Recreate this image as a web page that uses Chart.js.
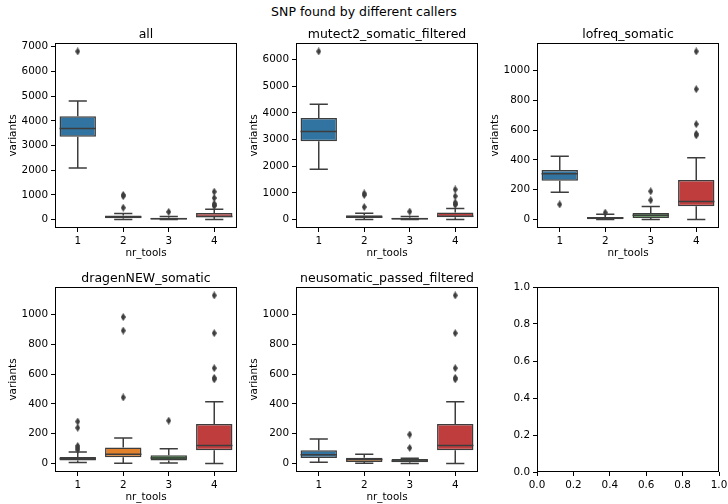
<!DOCTYPE html>
<html>
<head>
<meta charset="utf-8">
<script src="https://cdn.jsdelivr.net/npm/chart.js@4/dist/chart.umd.min.js"></script>
<style>
  body { margin: 0; background: #fff; width: 728px; height: 504px; position: relative; overflow: hidden; font-family: 'DejaVu Sans', sans-serif; }
  canvas { position: absolute; }
  #sup { position: absolute; left: 0; top: 5px; width: 728px; text-align: center; font-size: 12.5px; line-height: 14px; color: #000; }
</style>
</head>
<body>
<div id="sup">SNP found by different callers</div>
<canvas id="c1" width="249" height="244" style="left:0;top:17px"></canvas>
<canvas id="c2" width="249" height="244" style="left:241px;top:17px"></canvas>
<canvas id="c3" width="249" height="244" style="left:482px;top:17px"></canvas>
<canvas id="c4" width="249" height="244" style="left:0;top:261px"></canvas>
<canvas id="c5" width="249" height="244" style="left:241px;top:261px"></canvas>
<canvas id="c6" width="249" height="244" style="left:482px;top:261px"></canvas>
<script>
const categories = ['1', '2', '3', '4'];

// all
const allLow  = [2090, 0, 0, 0];
const allQ1   = [3350, 55, 8, 90];
const allMed  = [3690, 100, 30, 122];
const allQ3   = [4180, 165, 70, 265];
const allHigh = [4800, 250, 130, 415];
const allOut  = [[6810], [480, 950, 1000], [310], [565, 575, 640, 875, 1128]];
const allTicks = [0, 1000, 2000, 3000, 4000, 5000, 6000, 7000];

// mutect2_somatic_filtered
const mutLow  = [1890, 0, 0, 0];
const mutQ1   = [2930, 55, 8, 90];
const mutMed  = [3300, 100, 30, 122];
const mutQ3   = [3810, 160, 65, 265];
const mutHigh = [4320, 240, 120, 415];
const mutOut  = [[6300], [470, 920, 980], [300], [565, 575, 640, 875, 1128]];
const mutTicks = [0, 1000, 2000, 3000, 4000, 5000, 6000];

// lofreq_somatic
const lofLow  = [183, 0, 0, 0];
const lofQ1   = [260, 3, 11, 90];
const lofMed  = [308, 10, 29, 122];
const lofQ3   = [332, 18, 44, 265];
const lofHigh = [425, 35, 88, 415];
const lofOut  = [[102], [47], [130, 190], [565, 575, 640, 875, 1128]];

// dragenNEW_somatic
const drgLow  = [8, 3, 4, 0];
const drgQ1   = [20, 42, 20, 90];
const drgMed  = [33, 62, 38, 122];
const drgQ3   = [45, 108, 56, 265];
const drgHigh = [78, 172, 100, 415];
const drgOut  = [[92, 105, 118, 240, 282], [444, 892, 983], [288], [565, 575, 640, 875, 1128]];

// neusomatic_passed_filtered
const neuLow  = [9, 2, 0, 0];
const neuQ1   = [37, 11, 9, 90];
const neuMed  = [60, 27, 17, 122];
const neuQ3   = [89, 40, 30, 265];
const neuHigh = [165, 63, 35, 415];
const neuOut  = [[], [], [105, 195], [565, 575, 640, 875, 1128]];

const smallTicks = [0, 200, 400, 600, 800, 1000];
const unitTicks = [0, 0.2, 0.4, 0.6, 0.8, 1.0];

const fills = ['#3274a1', '#e1812c', '#3a923a', '#c03d3e'];
const gray = '#3d3d3d';

Chart.defaults.font.family = "'DejaVu Sans', sans-serif";
Chart.defaults.font.size = 10.4;
Chart.defaults.color = '#000';
Chart.defaults.animation = false;

// thin diamond flier marker
const diamond = document.createElement('canvas');
diamond.width = 5; diamond.height = 8;
(function () {
  const g = diamond.getContext('2d');
  g.fillStyle = gray;
  g.beginPath();
  g.moveTo(2.5, 0); g.lineTo(5, 4); g.lineTo(2.5, 8); g.lineTo(0, 4);
  g.closePath(); g.fill();
})();

const frame = {
  id: 'frame',
  afterDraw(chart) {
    const { ctx, chartArea: a } = chart;
    ctx.save();
    ctx.strokeStyle = '#000';
    ctx.lineWidth = 1;
    ctx.strokeRect(Math.round(a.left) + 0.5, Math.round(a.top) + 0.5,
      Math.round(a.right - a.left) - 1, Math.round(a.bottom - a.top) - 1);
    ctx.restore();
  }
};

// axes title centred over the plot area, like matplotlib
function axTitle(text) {
  return {
    id: 'axTitle',
    afterDraw(chart) {
      const { ctx, chartArea: a } = chart;
      ctx.save();
      ctx.fillStyle = '#000';
      ctx.font = "12.5px 'DejaVu Sans', sans-serif";
      ctx.textAlign = 'center';
      ctx.textBaseline = 'alphabetic';
      ctx.fillText(text, (a.left + a.right) / 2, a.top - 5);
      ctx.restore();
    }
  };
}

function whiskers(low, q1, med, q3, high) {
  return {
    id: 'whiskers',
    afterDatasetsDraw(chart) {
      const { ctx, scales: { x, y } } = chart;
      const bars = chart.getDatasetMeta(0).data;
      ctx.save();
      ctx.strokeStyle = gray;
      ctx.lineWidth = 1.5;
      categories.forEach((c, i) => {
        const cx = x.getPixelForValue(i);
        const hw = bars[i].width / 2;
        const yl = y.getPixelForValue(low[i]), yh = y.getPixelForValue(high[i]);
        const ym = y.getPixelForValue(med[i]);
        ctx.beginPath();
        ctx.moveTo(cx, y.getPixelForValue(q3[i])); ctx.lineTo(cx, yh);
        ctx.moveTo(cx, y.getPixelForValue(q1[i])); ctx.lineTo(cx, yl);
        ctx.moveTo(cx - hw / 2, yh); ctx.lineTo(cx + hw / 2, yh);
        ctx.moveTo(cx - hw / 2, yl); ctx.lineTo(cx + hw / 2, yl);
        ctx.moveTo(cx - hw, ym); ctx.lineTo(cx + hw, ym);
        ctx.stroke();
      });
      ctx.restore();
    }
  };
}

function axisOpts(ticks, fmt, extra) {
  return Object.assign({
    border: { display: false },
    grid: { drawOnChartArea: false, drawTicks: true, tickLength: 4, color: '#000', lineWidth: 1 },
    ticks: { padding: 3, autoSkip: false, maxRotation: 0, callback: fmt },
    afterBuildTicks: ticks ? (s) => { s.ticks = ticks.map(v => ({ value: v })); } : undefined
  }, extra);
}

function boxChart(id, title, low, q1, med, q3, high, out, ticks) {
  const pts = [];
  out.forEach((vals, i) => vals.forEach(v => pts.push({ x: categories[i], y: v })));
  const vals = [...low, ...high, ...pts.map(p => p.y)];
  const lo = Math.min(...vals), hi = Math.max(...vals), pad = (hi - lo) * 0.05;

  new Chart(document.getElementById(id), {
    type: 'bar',
    data: {
      labels: categories,
      datasets: [
        {
          data: q1.map((v, i) => [v, q3[i]]),
          backgroundColor: fills,
          borderColor: gray,
          borderWidth: 1.5,
          borderSkipped: false,
          barPercentage: 0.8,
          categoryPercentage: 1
        },
        {
          type: 'line',
          data: pts,
          showLine: false,
          pointStyle: diamond,
          borderColor: gray,
          backgroundColor: gray
        }
      ]
    },
    options: {
      responsive: false,
      events: [],
      layout: { padding: { left: 0, right: 12, top: 26, bottom: 0 } },
      plugins: {
        legend: { display: false },
        tooltip: { enabled: false }
      },
      scales: {
        x: axisOpts(null, function (v) { return categories[v]; }, {
          grid: { drawOnChartArea: false, drawTicks: true, tickLength: 4, color: '#000', lineWidth: 1, offset: false },
          title: { display: true, text: 'nr_tools', color: '#000', font: { size: 10.4 }, padding: { top: 0, bottom: 1.5 } },
          afterFit: (s) => { s.height = 33; }
        }),
        y: axisOpts(ticks, (v) => String(v), {
          min: lo - pad,
          max: hi + pad,
          title: { display: true, text: 'variants', color: '#000', font: { size: 10.4 }, padding: { top: 7, bottom: 0 } },
          afterFit: (s) => { s.width = 55; }
        })
      }
    },
    plugins: [frame, axTitle(title), whiskers(low, q1, med, q3, high)]
  });
}

boxChart('c1', 'all', allLow, allQ1, allMed, allQ3, allHigh, allOut, allTicks);
boxChart('c2', 'mutect2_somatic_filtered', mutLow, mutQ1, mutMed, mutQ3, mutHigh, mutOut, mutTicks);
boxChart('c3', 'lofreq_somatic', lofLow, lofQ1, lofMed, lofQ3, lofHigh, lofOut, smallTicks);
boxChart('c4', 'dragenNEW_somatic', drgLow, drgQ1, drgMed, drgQ3, drgHigh, drgOut, smallTicks);
boxChart('c5', 'neusomatic_passed_filtered', neuLow, neuQ1, neuMed, neuQ3, neuHigh, neuOut, smallTicks);

// empty sixth axes
new Chart(document.getElementById('c6'), {
  type: 'scatter',
  data: { datasets: [{ data: [] }] },
  options: {
    responsive: false,
    events: [],
    layout: { padding: { left: 0, right: 12, top: 26, bottom: 0 } },
    plugins: { legend: { display: false }, tooltip: { enabled: false } },
    scales: {
      x: axisOpts(unitTicks, (v) => v.toFixed(1), { type: 'linear', min: 0, max: 1, afterFit: (s) => { s.height = 33; } }),
      y: axisOpts(unitTicks, (v) => v.toFixed(1), { type: 'linear', min: 0, max: 1, afterFit: (s) => { s.width = 55; } })
    }
  },
  plugins: [frame]
});
</script>
</body>
</html>
